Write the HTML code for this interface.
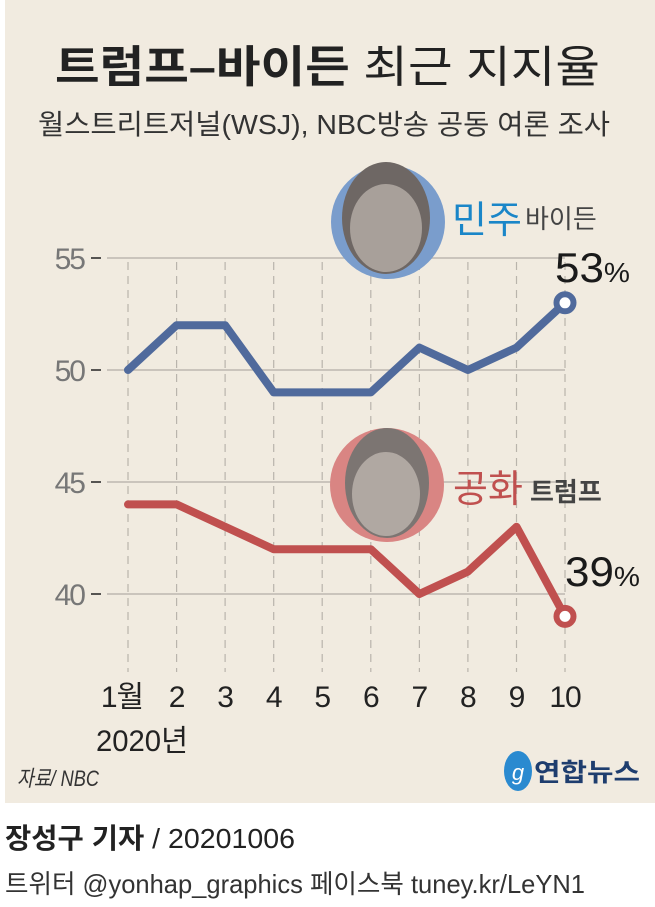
<!DOCTYPE html>
<html><head><meta charset="utf-8"><style>
body{margin:0;width:655px;height:907px;background:#fff;overflow:hidden}
svg{display:block}
text{font-family:"Liberation Sans","Noto Sans CJK KR",sans-serif}
</style></head><body>
<svg width="655" height="907" viewBox="0 0 655 907">
<rect x="5" y="0" width="650" height="803" fill="#f1ebe0"/>
<text x="55" y="82" font-size="44" fill="#222" textLength="545" lengthAdjust="spacingAndGlyphs"><tspan font-weight="bold">트럼프–바이든</tspan> 최근 지지율</text>
<text x="38" y="134" font-size="28" fill="#333" textLength="572" lengthAdjust="spacingAndGlyphs">월스트리트저널(WSJ), NBC방송 공동 여론 조사</text>
<g stroke="#bdb8b0" stroke-width="1.5">
<line x1="107" y1="258" x2="565" y2="258"/><line x1="107" y1="370" x2="565" y2="370"/>
<line x1="107" y1="482" x2="565" y2="482"/><line x1="107" y1="594" x2="565" y2="594"/>
</g>
<g stroke="#b9b4ac" stroke-width="1.2" stroke-dasharray="8,6">
<line x1="128" y1="262" x2="128" y2="672"/><line x1="176.6" y1="262" x2="176.6" y2="672"/>
<line x1="225.1" y1="262" x2="225.1" y2="672"/><line x1="273.7" y1="262" x2="273.7" y2="672"/>
<line x1="322.2" y1="262" x2="322.2" y2="672"/><line x1="370.8" y1="262" x2="370.8" y2="672"/>
<line x1="419.4" y1="262" x2="419.4" y2="672"/><line x1="467.9" y1="262" x2="467.9" y2="672"/>
<line x1="516.5" y1="262" x2="516.5" y2="672"/><line x1="565" y1="262" x2="565" y2="672"/>
</g>
<g stroke="#222" stroke-width="1.5">
<line x1="91" y1="258" x2="101" y2="258"/><line x1="91" y1="370" x2="101" y2="370"/>
<line x1="91" y1="482" x2="101" y2="482"/><line x1="91" y1="594" x2="101" y2="594"/>
</g>
<g font-size="30" fill="#777" text-anchor="end" letter-spacing="-2">
<text x="84" y="269">55</text><text x="84" y="381">50</text><text x="84" y="493">45</text><text x="84" y="605">40</text>
</g>
<circle cx="388" cy="222" r="57" fill="#7a9dcc"/>
<ellipse cx="386" cy="218" rx="44" ry="56" fill="#6e6764"/>
<ellipse cx="386" cy="228" rx="36" ry="44" fill="#a8a09a"/>
<circle cx="387" cy="485" r="57" fill="#d98583"/>
<ellipse cx="387" cy="483" rx="42" ry="55" fill="#7c7572"/>
<ellipse cx="386" cy="494" rx="34" ry="42" fill="#b0a8a2"/>
<polyline points="128,370 176.6,325.2 225.1,325.2 273.7,392.4 322.2,392.4 370.8,392.4 419.4,347.6 467.9,370 516.5,347.6 565,302.8" fill="none" stroke="#506a9c" stroke-width="8" stroke-linejoin="round" stroke-linecap="round"/>
<polyline points="128,504.4 176.6,504.4 225.1,526.8 273.7,549.2 322.2,549.2 370.8,549.2 419.4,594 467.9,571.6 516.5,526.8 565,616.4" fill="none" stroke="#c0504f" stroke-width="8" stroke-linejoin="round" stroke-linecap="round"/>
<circle cx="565" cy="302.8" r="8.5" fill="#fff" stroke="#506a9c" stroke-width="6"/>
<circle cx="565" cy="616.4" r="8.5" fill="#fff" stroke="#c0504f" stroke-width="6"/>
<text x="452" y="233" font-size="38" fill="#1a86c8">민주</text>
<text x="525" y="228" font-size="26" fill="#444">바이든</text>
<text x="555" y="282" font-size="42" fill="#1a1a1a" textLength="75" lengthAdjust="spacingAndGlyphs">53<tspan font-size="28">%</tspan></text>
<text x="453" y="502" font-size="38" fill="#c0504f">공화</text>
<text x="530" y="501" font-size="26" fill="#444" font-weight="bold">트럼프</text>
<text x="565" y="586" font-size="42" fill="#1a1a1a" textLength="75" lengthAdjust="spacingAndGlyphs">39<tspan font-size="28">%</tspan></text>
<g font-size="30" fill="#222" text-anchor="middle" letter-spacing="-1">
<text x="122" y="707">1월</text><text x="176.6" y="707">2</text><text x="225.1" y="707">3</text>
<text x="273.7" y="707">4</text><text x="322.2" y="707">5</text><text x="370.8" y="707">6</text>
<text x="419.4" y="707">7</text><text x="467.9" y="707">8</text><text x="516.5" y="707">9</text><text x="565" y="707">10</text>
</g>
<text x="96" y="751" font-size="30" fill="#222" textLength="92" lengthAdjust="spacingAndGlyphs">2020년</text>
<text x="17" y="786" font-size="22" font-style="italic" fill="#333" textLength="82" lengthAdjust="spacingAndGlyphs">자료/ NBC</text>
<ellipse cx="518" cy="771" rx="14" ry="20" fill="#2a8ad0"/>
<text x="518" y="780" font-size="22" font-style="italic" fill="#fff" text-anchor="middle">g</text>
<text x="534" y="781" font-size="25" font-weight="bold" fill="#1e3d6e" textLength="106" lengthAdjust="spacingAndGlyphs">연합뉴스</text>
<text x="5" y="848" font-size="28" fill="#222" textLength="290" lengthAdjust="spacingAndGlyphs"><tspan font-weight="bold">장성구 기자</tspan> / 20201006</text>
<text x="5" y="893" font-size="26" fill="#333" textLength="580" lengthAdjust="spacingAndGlyphs">트위터 @yonhap_graphics  페이스북 tuney.kr/LeYN1</text>
</svg>
</body></html>
